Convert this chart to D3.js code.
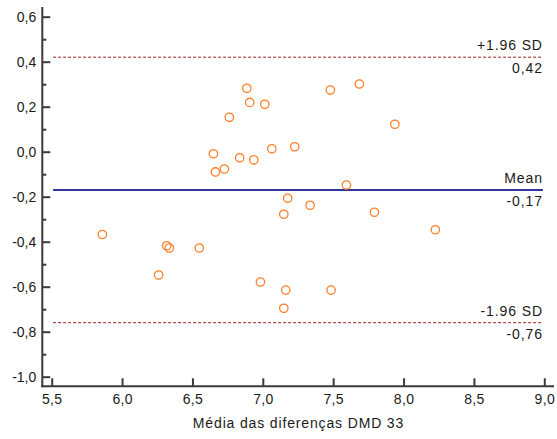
<!DOCTYPE html>
<html>
<head>
<meta charset="utf-8">
<script src="https://cdn.jsdelivr.net/npm/d3@7"></script>
<style>
  html, body { margin: 0; padding: 0; background: #fff; }
  svg { display: block; font-family: "Liberation Sans", Arial, sans-serif; }
</style>
</head>
<body>
<svg id="chart" width="557" height="439"></svg>
<script>
// Data: Bland-Altman plot
const meanValues = [5.86, 6.26, 6.317, 6.336, 6.549, 6.649, 6.663, 6.727, 6.762, 6.836,
  6.886, 6.907, 6.936, 6.983, 7.014, 7.064, 7.149, 7.149, 7.163, 7.177,
  7.227, 7.336, 7.48, 7.485, 7.594, 7.686, 7.793, 7.938, 8.226];
const diffValues = [-0.368, -0.548, -0.418, -0.428, -0.428, -0.009, -0.09, -0.077, 0.153, -0.027,
  0.282, 0.219, -0.036, -0.579, 0.211, 0.013, -0.278, -0.696, -0.615, -0.207,
  0.022, -0.238, 0.274, -0.615, -0.148, 0.301, -0.269, 0.122, -0.347];
const refLines = [
  { name: "+1.96 SD", value: 0.42, label: "0,42", kind: "sd" },
  { name: "Mean", value: -0.17, label: "-0,17", kind: "mean" },
  { name: "-1.96 SD", value: -0.76, label: "-0,76", kind: "sd" }
];
const xTicks = [5.5, 6.0, 6.5, 7.0, 7.5, 8.0, 8.5, 9.0];
const yTicks = [-1.0, -0.8, -0.6, -0.4, -0.2, 0.0, 0.2, 0.4, 0.6];
const yMinorTicks = [-0.9, -0.7, -0.5, -0.3, -0.1, 0.1, 0.3, 0.5];
const xTitle = "Média das diferenças DMD 33";
const xAxisExtent = [5.431, 9.069];
const yAxisExtent = [-1.046, 0.643];

const fmt = v => d3.format(".1f")(v).replace(".", ",").replace("−", "-");

const svg = d3.select("#chart");
const x = d3.scaleLinear().domain([5.5, 9.0]).range([51.7, 544.3]);
const y = d3.scaleLinear().domain([-1.0, 0.6]).range([376.7, 16.7]);

const axisColor = "#3a3a3a";
const textColor = "#1a1a1a";

// Reference lines
refLines.forEach(r => {
  svg.append("line")
    .attr("x1", x(5.51)).attr("x2", x(8.99))
    .attr("y1", y(r.value)).attr("y2", y(r.value))
    .attr("stroke", r.kind === "mean" ? "#333399" : "#9b1c1c")
    .attr("stroke-width", r.kind === "mean" ? 2 : 1)
    .attr("stroke-dasharray", r.kind === "mean" ? null : "3,2");
  svg.append("text")
    .attr("x", x(8.99)).attr("y", y(r.value) - 7)
    .attr("text-anchor", "end")
    .attr("font-size", 14).attr("letter-spacing", 0.9)
    .attr("fill", textColor).text(r.name);
  svg.append("text")
    .attr("x", x(8.99)).attr("y", y(r.value) + 16)
    .attr("text-anchor", "end")
    .attr("font-size", 14).attr("letter-spacing", 0.9)
    .attr("fill", textColor).text(r.label);
});

// Points
svg.append("g").selectAll("circle")
  .data(meanValues.map((m, i) => [m, diffValues[i]]))
  .join("circle")
  .attr("cx", d => x(d[0])).attr("cy", d => y(d[1]))
  .attr("r", 4.2)
  .attr("fill", "none")
  .attr("stroke", "#ff7f2a")
  .attr("stroke-width", 1.3);

// Y axis
const yAxisX = 42.3;
const gy = svg.append("g").attr("transform", `translate(${yAxisX},0)`)
  .call(d3.axisLeft(y).tickValues(yTicks).tickSize(-8).tickPadding(6).tickFormat(fmt));
gy.select(".domain").remove();
gy.selectAll(".tick line").attr("stroke", axisColor).attr("stroke-width", 2);
gy.selectAll(".tick text").attr("font-size", 14).attr("fill", textColor)
  .attr("font-family", "Liberation Sans, Arial, sans-serif");
const gym = svg.append("g").attr("transform", `translate(${yAxisX},0)`)
  .call(d3.axisLeft(y).tickValues(yMinorTicks).tickSize(-4).tickFormat(""));
gym.select(".domain").remove();
gym.selectAll(".tick line").attr("stroke", axisColor).attr("stroke-width", 2);

// X axis
const xAxisY = 386.3;
const gx = svg.append("g").attr("transform", `translate(0,${xAxisY})`)
  .call(d3.axisBottom(x).tickValues(xTicks).tickSize(-8).tickPadding(8).tickFormat(fmt));
gx.select(".domain").remove();
gx.selectAll(".tick line").attr("stroke", axisColor).attr("stroke-width", 2);
gx.selectAll(".tick text").attr("font-size", 14).attr("fill", textColor)
  .attr("letter-spacing", 0.3)
  .attr("font-family", "Liberation Sans, Arial, sans-serif");

// Axis lines
svg.append("line")
  .attr("x1", yAxisX).attr("x2", yAxisX)
  .attr("y1", y(yAxisExtent[1])).attr("y2", xAxisY + 1)
  .attr("stroke", axisColor).attr("stroke-width", 2);
svg.append("line")
  .attr("x1", yAxisX - 1).attr("x2", x(xAxisExtent[1]))
  .attr("y1", xAxisY).attr("y2", xAxisY)
  .attr("stroke", axisColor).attr("stroke-width", 2);

// X title
svg.append("text")
  .attr("x", (x(5.5) + x(9.0)) / 2 + 0.5).attr("y", 428)
  .attr("text-anchor", "middle")
  .attr("font-size", 14).attr("letter-spacing", 0.85)
  .attr("fill", textColor).text(xTitle);
</script>
</body>
</html>
